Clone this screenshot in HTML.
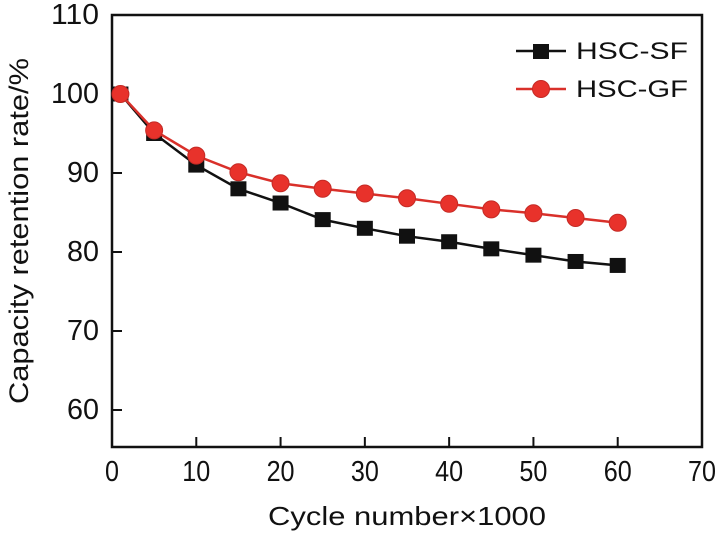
<!DOCTYPE html>
<html><head><meta charset="utf-8"><style>
body{margin:0;background:#fff;}
text{font-family:"Liberation Sans",Arial,sans-serif;fill:#111;}
</style></head><body>
<svg id="chart" width="720" height="535" xmlns="http://www.w3.org/2000/svg">
<g id="axes"></g><g id="series"></g>
<g>
<line x1="516" y1="51" x2="566" y2="51" stroke="#111" stroke-width="2.5"/>
<rect x="533" y="44" width="16" height="15" fill="#111"/>
<text x="576" y="59" font-size="24" textLength="112" lengthAdjust="spacingAndGlyphs">HSC-SF</text>
<line x1="516" y1="89" x2="566" y2="89" stroke="#d9302a" stroke-width="2.5"/>
<circle cx="541" cy="89" r="8.5" fill="#e8322b" stroke="#c42a25" stroke-width="1"/>
<text x="576" y="97" font-size="24" textLength="112" lengthAdjust="spacingAndGlyphs">HSC-GF</text>
</g>
<text x="268" y="525" font-size="26" textLength="278" lengthAdjust="spacingAndGlyphs">Cycle number×1000</text>
<text transform="translate(28,404) rotate(-90)" font-size="27" textLength="346" lengthAdjust="spacingAndGlyphs">Capacity retention rate/%</text>
</svg>
<script>
const cycles=[1,5,10,15,20,25,30,35,40,45,50,55,60];
const sfValues=[100,95,91,88,86.2,84.1,83,82,81.3,80.4,79.6,78.8,78.3];
const gfValues=[100,95.4,92.2,90.1,88.7,88,87.4,86.8,86.1,85.4,84.9,84.3,83.7];
const xTicks=[0,10,20,30,40,50,60,70];
const yTicks=[60,70,80,90,100,110];
const L=112,R=702,T=15,B=447;
const xs=v=>L+(v/70)*(R-L);
const ys=v=>T+(110-v)*7.9;
const NS='http://www.w3.org/2000/svg';
const ax=document.getElementById('axes');
function mk(tag,attrs,parent){const e=document.createElementNS(NS,tag);for(const k in attrs)e.setAttribute(k,attrs[k]);parent.appendChild(e);return e;}
const frame=mk('rect',{x:L,y:T,width:R-L,height:B-T,fill:'none',stroke:'#111','stroke-width':2.5},ax);


xTicks.forEach(t=>{
  if(t>0&&t<70){const l=mk('line',{x1:xs(t),x2:xs(t),y1:B,y2:B-10,stroke:'#111','stroke-width':2},ax);
  
  }
  const s=String(t);
  const tx=mk('text',{x:xs(t),y:481,'font-size':29,'text-anchor':'middle',textLength:s.length*14,lengthAdjust:'spacingAndGlyphs'},ax);tx.textContent=s;
  
  
});
yTicks.forEach(t=>{
  if(t<110){const l=mk('line',{x1:L,x2:L+10,y1:ys(t),y2:ys(t),stroke:'#111','stroke-width':2},ax);
  
  }
  const s=String(t);
  const tx=mk('text',{x:99,y:ys(t)+9,'font-size':29,'text-anchor':'end',textLength:s.length*16,lengthAdjust:'spacingAndGlyphs'},ax);tx.textContent=s;
  
  
});
const sg=document.getElementById('series');
const p1=mk('polyline',{points:cycles.map((c,i)=>xs(c)+','+ys(sfValues[i])).join(' '),fill:'none',stroke:'#111','stroke-width':2.5},sg);


cycles.forEach((c,i)=>{const r=mk('rect',{x:xs(c)-8,y:ys(sfValues[i])-7.5,width:16,height:15,fill:'#111'},sg);

});
const p2=mk('polyline',{points:cycles.map((c,i)=>xs(c)+','+ys(gfValues[i])).join(' '),fill:'none',stroke:'#d9302a','stroke-width':2.5},sg);


cycles.forEach((c,i)=>{const r=mk('circle',{cx:xs(c),cy:ys(gfValues[i]),r:8.5,fill:'#e8322b',stroke:'#c42a25','stroke-width':1},sg);

});
</script>
</body></html>
